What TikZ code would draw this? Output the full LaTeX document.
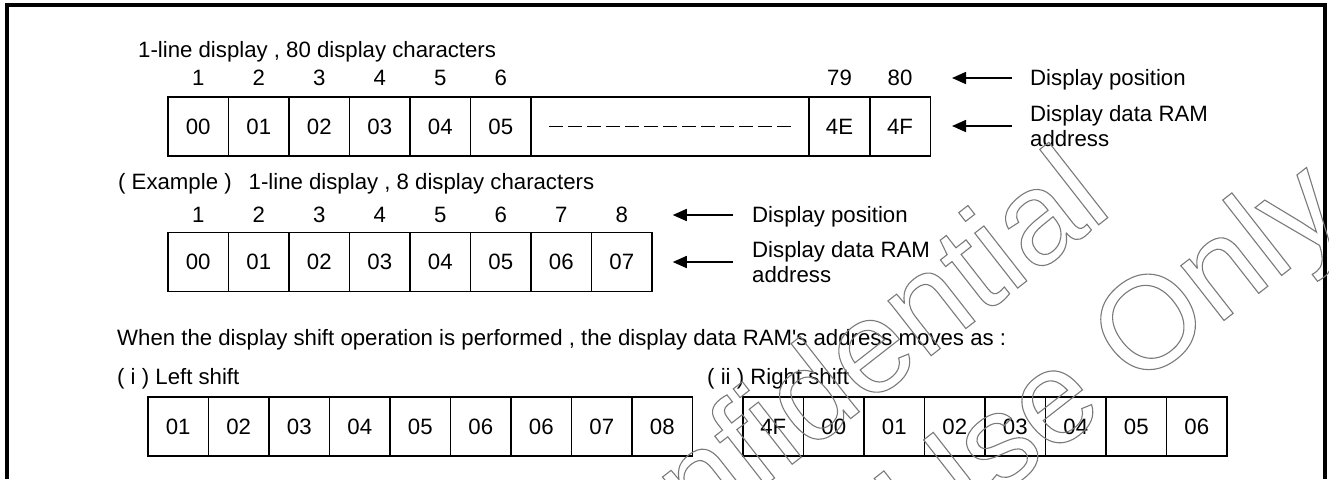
\documentclass[tikz,border=0pt]{standalone}
\usepackage{fontspec}
\newfontfamily\dispfont{Liberation Sans}
\usetikzlibrary{arrows.meta,positioning}
\definecolor{rmInk}{HTML}{000000}
\definecolor{rmWash}{HTML}{7A7A7A}
\tikzset{
  txt/.style    ={font=\dispfont\fontsize{22.2}{25.5}\selectfont,text=rmInk,inner sep=0pt,
                  text height=15.9pt,text depth=0pt},
  txtml/.style  ={font=\dispfont\fontsize{22.2}{25.5}\selectfont,text=rmInk,inner sep=0pt,
                  align=left},
  num/.style    ={txt},
  cell/.style   ={txt,draw=rmInk,line width=1.5pt,minimum width=60.5pt,minimum height=59pt},
  gapdash/.style={rmInk,line width=1.5pt,dash pattern=on 13.5pt off 5.5pt},
  ptr/.style    ={-{Triangle[length=14pt,width=12pt]},rmInk,line width=1.5pt},
  frame/.style  ={rmInk,line width=4pt},
  wmark/.style  ={font=\dispfont\fontsize{132}{132}\selectfont,text=rmWash,inner sep=0pt,rotate=38,
                  execute at begin node={\special{pdf:literal direct 1 Tr 1.1 w}},
                  execute at end node={\special{pdf:literal direct 0 Tr}}},
}

\begin{document}
\begin{tikzpicture}[x=1pt,y=-1pt]
\useasboundingbox (0,0) rectangle (1329,479);
\draw[frame] (7,479) -- (7,5) -- (1325,5) -- (1325,479);

%% 80 characters
\node[txt,anchor=west] (headA) at (138,50) {1-line display , 80 display characters};
\foreach \n [count=\i] in {00,01,02,03,04,05}
  { \node[cell] (a\i) at ({137.75+60.5*\i},126.5) {\n};
    \node[num] (p\i) at ({137.75+60.5*\i},78) {\i}; }
\node[cell,minimum width=278pt] (agap) at (670,126.5) {};
\draw[gapdash] ([xshift=19pt]agap.west) -- ([xshift=-16pt]agap.east);
\node[cell,minimum width=61pt] (a79) at (839.5,126.5) {4E};
\node[cell] (a80) at (900,126.5) {4F};
\node[num] (p79) at (839.5,78) {79};
\node[num] (p80) at (900,78) {80};
\node[txt,anchor=west] (posA) at (1030,78) {Display position};
\node[txtml,anchor=west] (ramA) at (1030,126) {Display data RAM\\address};
\draw[ptr,shorten <=18pt,shorten >=21pt] (posA.west) -- (posA.west -| a80.east);
\draw[ptr,shorten <=18pt,shorten >=21pt] (ramA.west) -- (ramA.west -| a80.east);

%% 8 characters
\node[txt,anchor=west] (headB) at (118,182) {( Example )\hspace{17pt}1-line display , 8 display characters};
\foreach \n [count=\i] in {00,01,02,03,04,05,06,07}
  { \node[cell] (b\i) at ({137.75+60.5*\i},262) {\n};
    \node[num] (q\i) at ({137.75+60.5*\i},215) {\i}; }
\node[txt,anchor=west] (posB) at (752,215) {Display position};
\node[txtml,anchor=west] (ramB) at (752,262) {Display data RAM\\address};
\draw[ptr,shorten <=19pt,shorten >=20pt] (posB.west) -- (posB.west -| b8.east);
\draw[ptr,shorten <=19pt,shorten >=20pt] (ramB.west) -- (ramB.west -| b8.east);

%% shifted
\node[txt,anchor=west] (note) at (117,338)
  {When the display shift operation is performed , the display data RAM's address moves as :};
\node[txt,anchor=west] (hdL) at (117,377) {( i ) Left shift};
\node[txt,anchor=west] (hdR) at (707,377) {( ii ) Right shift};
\foreach \n [count=\i] in {01,02,03,04,05,06,06,07,08}
  \node[cell] (c\i) at ({117.75+60.5*\i},426.5) {\n};
\foreach \n [count=\i] in {4F,00,01,02,03,04,05,06}
  \node[cell] (d\i) at ({712.75+60.5*\i},426.5) {\n};

%% watermark
\begin{scope}
\clip (0,0) rectangle (1329,479);
\node[wmark,anchor=base east] (wmA) at (1115,212) {Confidential};
\node[wmark,anchor=base east] (wmB) at (1350,222) {Use Only};
\end{scope}
\end{tikzpicture}
\end{document}
